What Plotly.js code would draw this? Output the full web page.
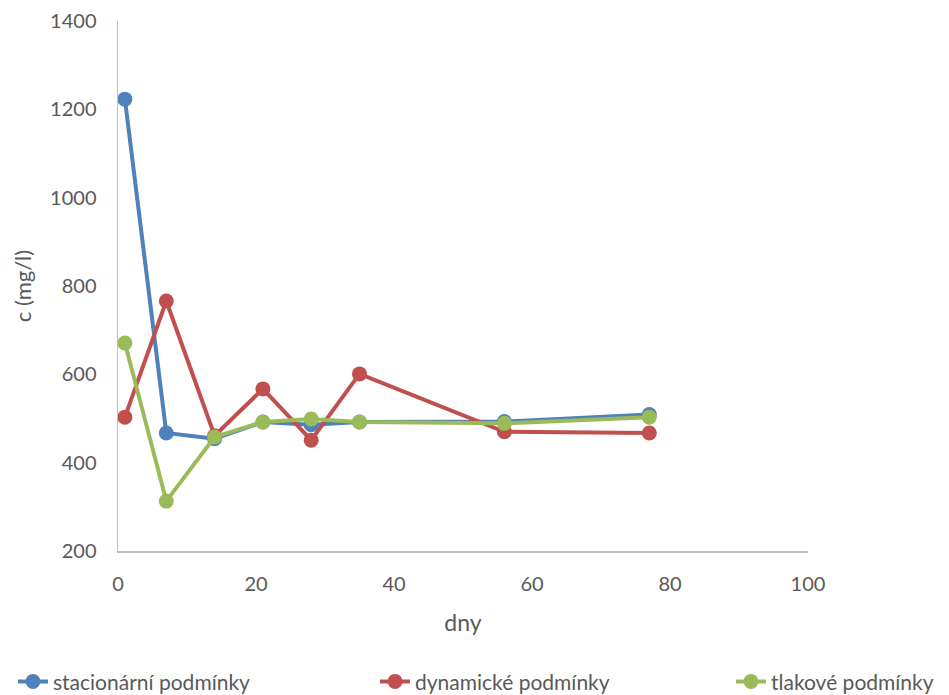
<!DOCTYPE html>
<html>
<head>
<meta charset="utf-8">
<script src="https://cdn.plot.ly/plotly-3.0.1.min.js"></script>
<style>
  html, body { margin: 0; padding: 0; background: #fff; }
  #chart { width: 949px; height: 695px; }
</style>
</head>
<body>
<div id="chart"></div>
<script>
// Sampling days
const dny = [1, 7, 14, 21, 28, 35, 56, 77];

// Concentration c (mg/l) for each condition
const stacionarni = [1223, 467, 454, 492, 486, 492, 493, 509];
const dynamicke   = [503, 766, 461, 567, 451, 601, 470, 467];
const tlakove     = [671, 313, 458, 492, 499, 492, 489, 503];

const seriesNames = ['stacionární podmínky', 'dynamické podmínky', 'tlakové podmínky'];
const seriesColors = ['#4f81bd', '#c0504d', '#9bbb59'];

const xTicks = [0, 20, 40, 60, 80, 100];
const yTicks = [200, 400, 600, 800, 1000, 1200, 1400];

const font = 'Lato, "Open Sans", sans-serif';
const textColor = '#595959';

// One legend per series so the entries can be spread across the bottom
const legendIds = ['legend', 'legend2', 'legend3'];
const legendX = [-0.1522, 0.3725, 0.8884];

const traces = [stacionarni, dynamicke, tlakove].map((vals, i) => ({
  x: dny,
  y: vals,
  name: seriesNames[i],
  legend: legendIds[i],
  type: 'scatter',
  mode: 'lines+markers',
  line: { color: seriesColors[i], width: 4 },
  marker: { color: seriesColors[i], size: 15 }
}));

function legendBox(x) {
  return {
    orientation: 'h',
    x: x,
    xanchor: 'left',
    y: -0.208,
    yanchor: 'top',
    bgcolor: 'rgba(0,0,0,0)',
    font: { family: font, size: 21, color: textColor }
  };
}

const layout = {
  width: 949,
  height: 695,
  margin: { l: 118, r: 141, t: 21, b: 144, autoexpand: false },
  paper_bgcolor: '#ffffff',
  plot_bgcolor: '#ffffff',
  font: { family: font, size: 20, color: textColor },
  showlegend: true,
  legend: legendBox(legendX[0]),
  legend2: legendBox(legendX[1]),
  legend3: legendBox(legendX[2]),
  xaxis: {
    range: [0, 100],
    tickvals: xTicks,
    ticktext: xTicks.map(String),
    showgrid: false,
    zeroline: false,
    showline: true,
    linecolor: '#bfbfbf',
    linewidth: 1.5,
    ticks: '',
    ticklabelstandoff: 14,
    automargin: false,
    tickfont: { family: font, size: 20, color: textColor },
    title: { text: 'dny', font: { family: font, size: 23, color: textColor }, standoff: 21 }
  },
  yaxis: {
    range: [200, 1400],
    tickvals: yTicks,
    ticktext: yTicks.map(String),
    showgrid: false,
    zeroline: false,
    showline: true,
    linecolor: '#bfbfbf',
    linewidth: 1.5,
    ticks: '',
    ticklabelstandoff: 16,
    automargin: false,
    tickfont: { family: font, size: 20, color: textColor },
    title: { text: 'c (mg/l)', font: { family: font, size: 22, color: textColor }, standoff: 12 }
  }
};

Plotly.newPlot('chart', traces, layout, { displayModeBar: false, staticPlot: true });
</script>
</body>
</html>
